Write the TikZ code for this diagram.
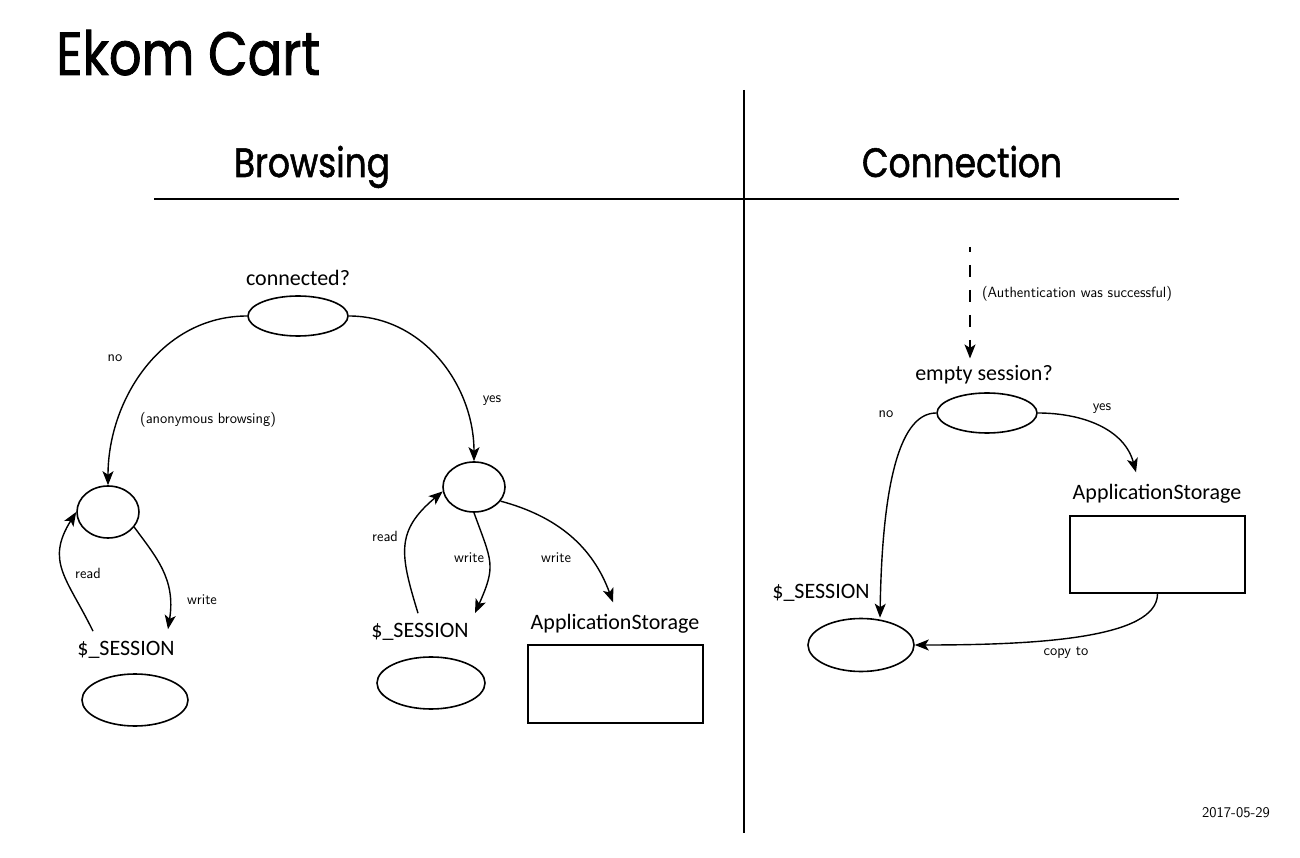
\documentclass[tikz,border=0pt]{standalone}
\usepackage{fontspec}
\newfontfamily\titlefont[FakeBold=1.3,FakeStretch=0.84]{Poppins}
\newfontfamily\labfont{Carlito}
\usetikzlibrary{arrows.meta,shapes.geometric,calc}
\begin{document}
\begin{tikzpicture}[x=1pt,y=1pt,
  oval/.style={ellipse,draw,line width=1.6pt,inner sep=0},
  box/.style={rectangle,draw,line width=1.6pt,inner sep=0},
  big/.style={font=\labfont\fontsize{22}{22}\selectfont,inner sep=0},
  small/.style={font=\sffamily\fontsize{14.8}{14.8}\selectfont,inner sep=0},
  head/.style={font=\titlefont\fontsize{41}{41}\selectfont,inner sep=0},
  conn/.style={line width=1.4pt,-{Stealth[length=14pt,width=11pt,inset=3.5pt]}},
  rule/.style={line width=1.3pt}]
\useasboundingbox (0,0) rectangle (1300,857);
\fill[white] (0,0) rectangle (1300,857);

% headings
\node[head,font=\titlefont\fontsize{61}{61}\selectfont,anchor=base west] (title) at (56,782) {Ekom Cart};
\node[head,anchor=base] (hb) at (312,680) {Browsing};
\node[head,anchor=base] (hc) at (962,680) {Connection};
\coordinate (vt) at (744,767);
\coordinate (vb) at (744,24);
\coordinate (hl) at (154,658);
\coordinate (hr) at (1179,658);
\draw[rule] (vt) -- (vb);
\draw[rule] (hl) -- (hr);

% browsing
\node[oval,minimum width=100,minimum height=40] (c1) at (298,541) {};
\node[big] (lc1) at (298,579) {connected?};
\node[oval,minimum width=62,minimum height=52] (a) at (108,345) {};
\node[big] (lsL) at (126,207) {\$\_SESSION};
\node[oval,minimum width=106,minimum height=52] (sL) at (135,157) {};
\node[oval,minimum width=62,minimum height=50] (b) at (474,370) {};
\node[big] (lsM) at (420,225) {\$\_SESSION};
\node[oval,minimum width=108,minimum height=52] (sM) at (431,174) {};
\node[big] (las1) at (615,233) {ApplicationStorage};
\node[box,minimum width=175,minimum height=78] (r1) at (615.5,173) {};

\node[small] (tno1) at (115,499) {no};
\node[small] (tanon) at (208,437) {(anonymous browsing)};
\node[small] (tyes1) at (492,456) {yes};
\node[small] (tr1) at (88,284) {read};
\node[small] (tw1) at (202,257) {write};
\node[small] (tr2) at (385,321) {read};
\node[small] (tw2) at (469,299) {write};
\node[small] (tw3) at (556,299) {write};

\draw[conn] (c1.west) to[out=180,in=90] (a.north);
\draw[conn] (c1.east) to[out=0,in=90] (b.north);
\draw[conn] ($(lsL.north)+(-33,10)$) to[out=116,in=-122,looseness=1.25] (a.west);
\draw[conn] (a.-30) .. controls +(22,-30) and +(8,50) .. ($(lsL.north)+(42,12)$);
\draw[conn] ($(lsM.north)+(-2,10)$) to[out=107,in=-140,looseness=1.27] (b.188);
\draw[conn] (b.south) to[out=-70,in=66,looseness=1.34] ($(lsM.north)+(55,10)$);
\draw[conn] (b.-28) to[out=-15,in=110] ($(las1.north)+(-2,12)$);

% connection
\node[oval,minimum width=100,minimum height=40] (c2) at (987,444) {};
\node[big] (lc2) at (984,482) {empty session?};
\node[small] (auth) at (1077,563) {(Authentication was successful)};
\coordinate (dtop) at (970,610);
\draw[conn,dash pattern=on 12pt off 13pt,dash phase=7pt] (dtop) -- ($(dtop |- lc2.north)+(0,7)$);
\node[big] (las2) at (1157,363) {ApplicationStorage};
\node[box,minimum width=175,minimum height=77] (r2) at (1157.5,302.5) {};
\node[big] (lsR) at (821,264) {\$\_SESSION};
\node[oval,minimum width=106,minimum height=53] (sR) at (861,212) {};
\node[small] (tno2) at (886,443) {no};
\node[small] (tyes2) at (1102,448) {yes};
\node[small] (tcopy) at (1066,204) {copy to};
\node[small] (date) at (1236,44) {2017-05-29};

\draw[conn] (c2.west) .. controls +(-40,0) and +(2,120) .. ($(sR.north)+(19,0)$);
\draw[conn] (c2.east) to[out=0,in=105] ($(las2.north)+(-21,12)$);
\draw[conn] (r2.south) .. controls +(0,-45) and +(120,0) .. (sR.east);
\end{tikzpicture}
\end{document}
